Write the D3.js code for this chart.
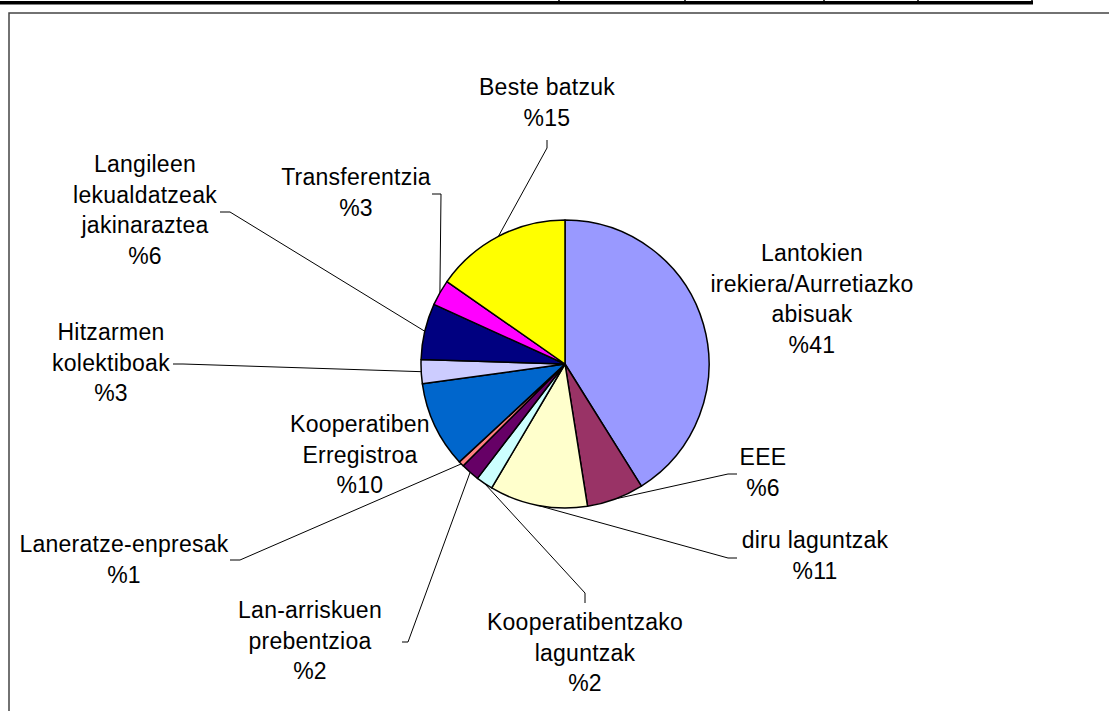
<!DOCTYPE html>
<html>
<head>
<meta charset="utf-8">
<script src="https://cdn.jsdelivr.net/npm/d3@7"></script>
<style>
  body { margin: 0; background: #fff; }
  svg { display: block; }
  .lbl { font-family: "Liberation Sans", Arial, sans-serif; font-size: 23px; letter-spacing: 0.25px; fill: #000; }
</style>
</head>
<body>
<svg id="chart" width="1109" height="711"></svg>
<script>
// categories, in slice order (clockwise from 12 o'clock)
var categories = [
  ["Lantokien", "irekiera/Aurretiazko", "abisuak"],
  ["EEE"],
  ["diru laguntzak"],
  ["Kooperatibentzako", "laguntzak"],
  ["Lan-arriskuen", "prebentzioa"],
  ["Laneratze-enpresak"],
  ["Kooperatiben", "Erregistroa"],
  ["Hitzarmen", "kolektiboak"],
  ["Langileen", "lekualdatzeak", "jakinaraztea"],
  ["Transferentzia"],
  ["Beste batzuk"]
];
// share of each slice (%)
var values = [41.1, 6.4, 11.0, 1.9, 2.1, 0.6, 9.7, 2.7, 6.3, 2.9, 15.3];
var colors = ["#9999FF", "#993366", "#FFFFCC", "#CCFFFF", "#660066", "#FF8080",
              "#0066CC", "#CCCCFF", "#000080", "#FF00FF", "#FFFF00"];

// label placement: centre x, first baseline y, leader points (before the pie edge)
var labelPos = [
  {x: 812, y: 261, lead: null},
  {x: 763, y: 465, lead: [[737, 474], [728, 474]]},
  {x: 815, y: 548, lead: [[737, 558], [728, 558]]},
  {x: 585, y: 630, lead: [[585, 603], [585, 593]]},
  {x: 310, y: 618, lead: [[402, 642], [408, 642]]},
  {x: 124, y: 552, lead: [[230, 560], [240, 560]]},
  {x: 360, y: 432, lead: null},
  {x: 111, y: 340, lead: [[173, 364], [183, 364]]},
  {x: 145, y: 172, lead: [[220, 212], [230, 212]]},
  {x: 356, y: 185, lead: [[432, 194], [441, 194]]},
  {x: 547, y: 95, lead: [[547, 140], [547, 148]]}
];

var svg = d3.select("#chart");

// bit of table showing above the chart
svg.append("line").attr("x1", 0).attr("x2", 1033).attr("y1", 2.8).attr("y2", 2.8)
  .attr("stroke", "#000").attr("stroke-width", 3.5);
[559, 685, 824, 918, 1032].forEach(function(x){
  svg.append("line").attr("x1", x).attr("x2", x).attr("y1", 0).attr("y2", 3)
    .attr("stroke", "#000").attr("stroke-width", 1.5);
});

// chart area border
svg.append("rect")
  .attr("x", 9).attr("y", 13).attr("width", 1120).attr("height", 720)
  .attr("fill", "#fff").attr("stroke", "#444").attr("stroke-width", 1.5);

var cx = 565, cy = 364, r = 144;

var pie = d3.pie().sort(null).value(function(d){ return d; });
var arcs = pie(values);
var arc = d3.arc().innerRadius(0).outerRadius(r);
var edge = d3.arc().innerRadius(r).outerRadius(r);

var g = svg.append("g").attr("transform", "translate(" + cx + "," + cy + ")");

g.selectAll("path.slice")
  .data(arcs)
  .enter()
  .append("path")
  .attr("class", "slice")
  .attr("d", arc)
  .attr("fill", function(d, i){ return colors[i]; })
  .attr("stroke", "#000")
  .attr("stroke-width", 1.5)
  .attr("stroke-linejoin", "round");

// leader lines
var line = d3.line();
arcs.forEach(function(d, i){
  var p = labelPos[i];
  if (!p.lead) return;
  var c = edge.centroid(d);
  var pts = p.lead.concat([[c[0] + cx, c[1] + cy]]);
  svg.append("path")
    .attr("d", line(pts))
    .attr("fill", "none")
    .attr("stroke", "#000")
    .attr("stroke-width", 1);
});

// labels
var lh = 30.5;
arcs.forEach(function(d, i){
  var p = labelPos[i];
  var lines = categories[i].concat(["%" + Math.round(values[i])]);
  var t = svg.append("text").attr("class", "lbl").attr("text-anchor", "middle");
  lines.forEach(function(s, k){
    t.append("tspan").attr("x", p.x).attr("y", p.y + k * lh).text(s);
  });
});
</script>
</body>
</html>
